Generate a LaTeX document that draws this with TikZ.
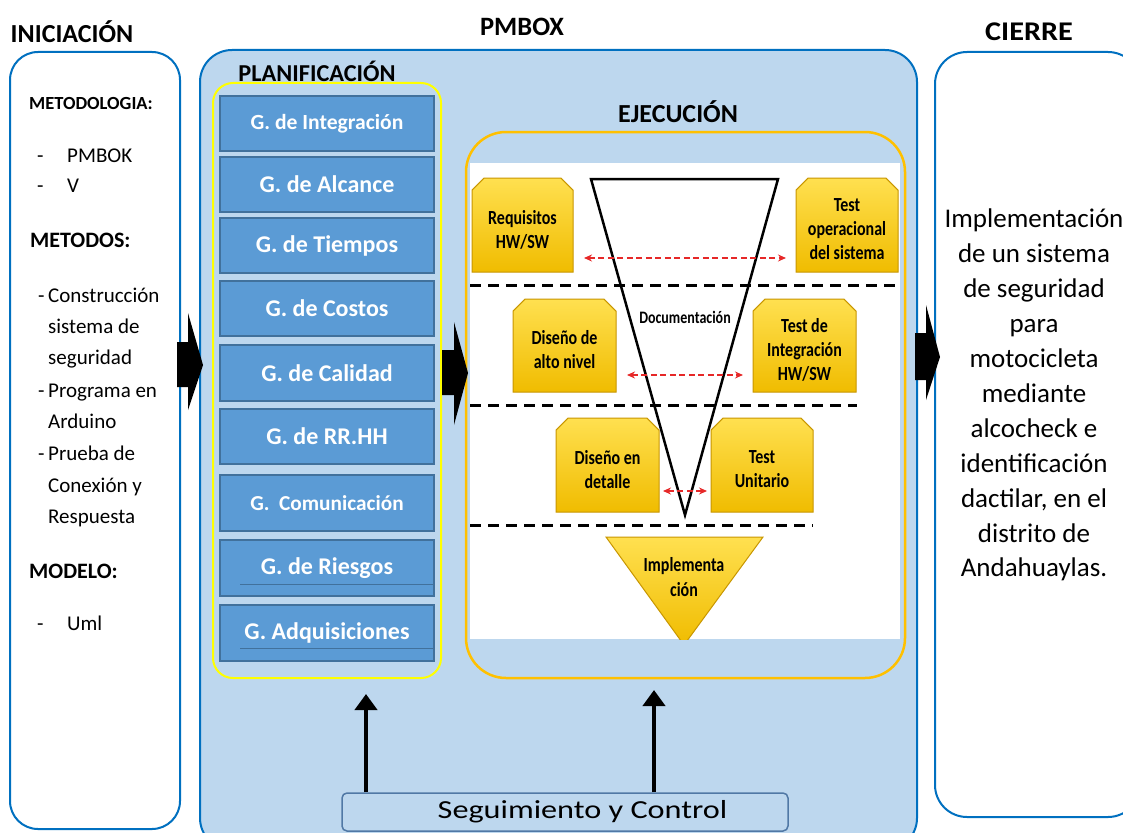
\documentclass[tikz,border=0pt]{standalone}
\usepackage{fontspec}
\setmainfont{Carlito}
\newfontfamily\narrowfont[FakeStretch=0.8]{Carlito}
\newfontfamily\widefont[FakeStretch=1.12]{Carlito}
\newfontfamily\segfont[FakeStretch=1.24]{Carlito}
\usetikzlibrary{shapes.misc,arrows.meta}
\newcommand\myfs[2]{\fontsize{#1}{#2}\selectfont}
\newcommand\vph[1]{\phantom{\begin{tabular}{@{}c@{}}#1\end{tabular}}}
\definecolor{bord}{RGB}{0,112,192}
\definecolor{pmfill}{RGB}{189,215,238}
\definecolor{gfill}{RGB}{91,155,213}
\definecolor{gbord}{RGB}{65,113,156}
\definecolor{ejbord}{RGB}{255,192,0}
\definecolor{plbord}{RGB}{255,255,0}
\definecolor{ylight}{RGB}{255,224,80}
\definecolor{ygold}{RGB}{240,188,0}
\definecolor{ydark}{RGB}{200,150,0}
\definecolor{redarr}{RGB}{230,40,40}
\definecolor{segbord}{RGB}{80,120,165}
\tikzset{
  panel/.style={draw=bord, line width=2pt, rounded corners=28pt},
  title/.style={font=\bfseries\myfs{26.5}{30}, inner sep=0pt},
  gbox/.style={draw=gbord, line width=2pt, fill=gfill, minimum width=214, text=white,
     font=\bfseries\myfs{24}{28}, inner sep=0pt},
  vbox/.style={chamfered rectangle, chamfered rectangle corners={north west,north east},
     chamfered rectangle xsep=9pt, draw=ydark, line width=1pt, top color=ylight, bottom color=ygold,
     inner sep=0pt, font=\narrowfont\bfseries\myfs{20}{24}},
  vtext/.style={inner sep=0pt, align=center, font=\narrowfont\bfseries\myfs{20}{24}, text=black, yshift=-4.5pt},
  ltxt/.style={anchor=base west, inner sep=0pt, font=\myfs{21}{24}},
  lhead/.style={anchor=base west, inner sep=0pt, font=\bfseries\myfs{22}{25}},
  blockarrow/.style={fill=black},
  vdash/.style={line width=3pt, dash pattern=on 11pt off 7pt},
  redlink/.style={redarr, line width=2pt, dash pattern=on 6pt off 3.5pt, {Stealth[length=8pt,width=7pt]}-{Stealth[length=8pt,width=7pt]}},
  uparrow/.style={line width=4pt, -{Triangle[width=22pt,length=16pt]}},
}
\begin{document}
\begin{tikzpicture}[x=1pt,y=-1pt]
\useasboundingbox (0,0) rectangle (1123,832);
\fill[white] (0,0) rectangle (1123,832);

% ---- titles
\node[title, font=\bfseries\myfs{26}{30}] (tini) at (72,32) {INICIACIÓN};
\node[title] (tpm) at (522,27) {PMBOX};
\node[title, font=\widefont\bfseries\myfs{27}{30}] (tcie) at (1029,32) {CIERRE};

% ---- panels
\node[panel, fill=white, minimum width=170, minimum height=777] (ini) at (95,440.5) {};
\node[panel, fill=pmfill, minimum width=717, minimum height=800, rounded corners=32pt] (pm) at (558.5,450) {};
\node[panel, fill=white, minimum width=205, minimum height=765, rounded corners=32pt] (cie) at (1037.5,434.5) {};

% ---- iniciacion text
\node[lhead, font=\bfseries\myfs{18.5}{21}] (l1) at (29,110) {METODOLOGIA:};
\node[ltxt] (l2d) at (37,162) {-};
\node[ltxt] (l2) at (67,162) {PMBOK};
\node[ltxt] (l3d) at (37,192) {-};
\node[ltxt] (l3) at (67,192) {V};
\node[lhead] (l4) at (30,247) {METODOS:};
\node[ltxt] (l5d) at (38,302) {-};
\node[ltxt] (l5) at (48,302) {Construcción};
\node[ltxt] (l6) at (48,333) {sistema de};
\node[ltxt] (l7) at (48,364) {seguridad};
\node[ltxt] (l8d) at (38,397) {-};
\node[ltxt] (l8) at (48,397) {Programa en};
\node[ltxt] (l9) at (48,428) {Arduino};
\node[ltxt] (l10d) at (38,460) {-};
\node[ltxt] (l10) at (48,460) {Prueba de};
\node[ltxt] (l11) at (48,492) {Conexión y};
\node[ltxt] (l12) at (48,523) {Respuesta};
\node[lhead] (l13) at (29,578) {MODELO:};
\node[ltxt] (l14d) at (37,630) {-};
\node[ltxt] (l14) at (67,630) {Uml};

% ---- cierre text
\node[anchor=north, align=center, inner sep=0pt, font=\myfs{27}{34.9}] (ctxt) at (1034,209)
 {Implementación\\de un sistema\\de seguridad\\para\\motocicleta\\mediante\\alcocheck e\\identificación\\dactilar, en el\\distrito de\\Andahuaylas.};

% ---- planificacion
\node[title, font=\bfseries\myfs{24.3}{27}] (tpl) at (317,71) {PLANIFICACIÓN};
\node[draw=plbord, line width=2pt, rounded corners=20pt, minimum width=228, minimum height=595] (pl) at (327,380.5) {};
\node[gbox, minimum height=55] (g1) at (327,123.5) {\myfs{21.6}{24}G. de Integración};
\node[gbox, minimum height=55] (g2) at (327,184.5) {G. de Alcance};
\node[gbox, minimum height=55] (g3) at (327,245.5) {G. de Tiempos};
\node[gbox, minimum height=55] (g4) at (327,308.5) {G. de Costos};
\node[gbox, minimum height=56] (g5) at (327,373) {G. de Calidad};
\node[gbox, minimum height=55] (g6) at (327,436.5) {G. de RR.HH};
\node[gbox, minimum height=56] (g7) at (327,503) {\myfs{21.3}{24}G.\ \ Comunicación};
\node[gbox, minimum height=56] (g8) at (327,568) {G. de Riesgos};
\node[gbox, minimum height=56] (g9) at (327,633) {G. Adquisiciones};
\draw[gbord, line width=1pt] (240,584) -- (g8.east |- 0,584);
\draw[gbord, line width=1pt] (240,648) -- (g9.east |- 0,648);

% ---- ejecucion
\node[title, font=\bfseries\myfs{26}{29}] (tej) at (678,112) {EJECUCIÓN};
\node[draw=ejbord, line width=2.5pt, rounded corners=40pt, minimum width=439, minimum height=546] (ej) at (685.5,405) {};
\fill[white] (470,163) rectangle (900,639);
\coordinate (vtl) at (591,179);
\coordinate (vtr) at (778,179);
\coordinate (vtip) at (685,515);
\draw[line width=2.5pt] (vtl) -- (vtr) -- (vtip) -- cycle;
\draw[vdash] (470,285) -- (900,285);
\draw[vdash] (470,405) -- (857,405);
\draw[vdash] (470,525) -- (813,525);

\node[vbox, minimum width=101, minimum height=94, label={[vtext]center:{Requisitos\\HW/SW}}] (req) at (522.5,225) {\vph{Requisitos\\HW/SW}};
\node[vbox, minimum width=102, minimum height=94, label={[vtext]center:{Test\\operacional\\del sistema}}] (top) at (847,225) {\vph{Test\\operacional\\del sistema}};
\node[vbox, minimum width=103, minimum height=93, label={[vtext]center:{Diseño de\\alto nivel}}] (dhl) at (564.5,345.5) {\vph{Diseño de\\alto nivel}};
\node[vbox, minimum width=103, minimum height=93, label={[vtext]center:{Test de\\Integración\\HW/SW}}] (tint) at (804.5,345.5) {\vph{Test de\\Integración\\HW/SW}};
\node[vbox, minimum width=103, minimum height=94, label={[vtext]center:{Diseño en\\detalle}}] (dd) at (607.5,465) {\vph{Diseño en\\detalle}};
\node[vbox, minimum width=102, minimum height=94, label={[vtext]center:{Test\\Unitario}}] (tu) at (762,465) {\vph{Test\\Unitario}};
\node[font=\narrowfont\bfseries\myfs{17.5}{20}, inner sep=0pt] (doc) at (685,317) {Documentación};

\begin{scope}
\clip (470,163) rectangle (900,639);
\draw[ydark, line width=1pt, top color=ylight, bottom color=ygold, shading angle=0] (606,537) -- (763,537) -- (684,645) -- cycle;
\end{scope}
\node[align=center, inner sep=0pt, font=\narrowfont\bfseries\myfs{20}{25}] (impl) at (684,577) {Implementa\\ción};

\coordinate (r1a) at (584,258); \coordinate (r1b) at (786,258);
\coordinate (r2a) at (627,375); \coordinate (r2b) at (743,375);
\coordinate (r3a) at (663,491); \coordinate (r3b) at (707,491);
\draw[redlink] (r1a) -- (r1b);
\draw[redlink] (r2a) -- (r2b);
\draw[redlink] (r3a) -- (r3b);

% ---- block arrows
\fill[blockarrow] (177,342) -- (188,342) -- (188,313) -- (203,365) -- (188,410) -- (188,387) -- (177,387) -- cycle;
\fill[blockarrow] (442,350) -- (454,350) -- (454,322) -- (468,373) -- (454,425) -- (454,395) -- (442,395) -- cycle;
\fill[blockarrow] (915,333) -- (926,333) -- (926,305) -- (940,357) -- (926,400) -- (926,380) -- (915,380) -- cycle;

% ---- seguimiento
\node[draw=segbord, line width=1.5pt, fill=pmfill, rounded corners=5pt, minimum width=446, minimum height=38, inner sep=0pt, font=\segfont\myfs{26}{30}] (seg) at (565,812) {\hspace*{35pt}\raisebox{-2pt}{Seguimiento y Control}};
\coordinate (up1) at (366,694);
\coordinate (up2) at (654,690);
\draw[uparrow] (seg.north -| up1) -- (up1);
\draw[uparrow] (seg.north -| up2) -- (up2);
\end{tikzpicture}
\end{document}
